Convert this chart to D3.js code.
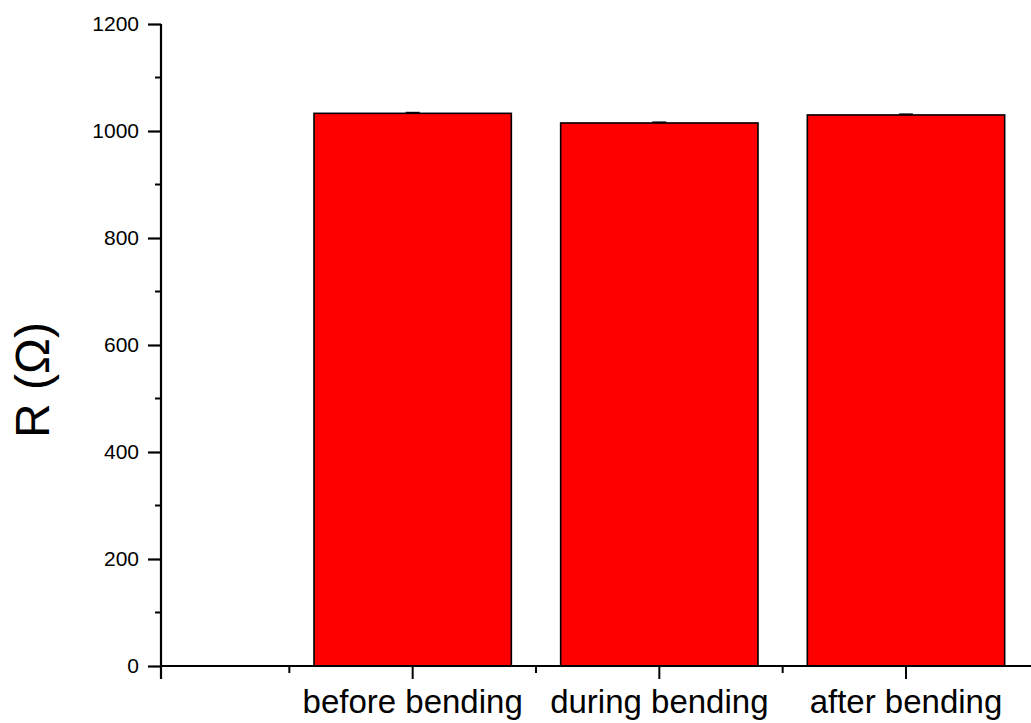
<!DOCTYPE html>
<html>
<head>
<meta charset="utf-8">
<script src="https://cdn.jsdelivr.net/npm/d3@7"></script>
<style>
  body { margin: 0; background: #fff; }
  svg { display: block; font-family: Arial, "Liberation Sans", sans-serif; }
</style>
</head>
<body>
<svg id="chart"></svg>
<script>
// Chart data
const categories = ['before bending', 'during bending', 'after bending'];
const resistance = [1033, 1015, 1030];
const errors = [1.5, 1.5, 1.5];
const yTicks = [0, 200, 400, 600, 800, 1000, 1200];

const width = 1031, height = 723;

const svg = d3.select('#chart')
    .attr('width', width)
    .attr('height', height);

// Scales: categories sit at positions 1, 2, 3 on a linear axis
const xScale = d3.scaleLinear()
    .domain([0, 3])
    .range([166, 906]);

const yScale = d3.scaleLinear()
    .domain([0, 1200])
    .range([666, 24]);

const barWidth = (xScale(1) - xScale(0)) * 0.8;

// Bars
svg.append('g')
  .selectAll('rect')
  .data(resistance)
  .join('rect')
    .attr('x', (d, i) => xScale(i + 1) - barWidth / 2)
    .attr('y', d => yScale(d))
    .attr('width', barWidth)
    .attr('height', d => yScale(0) - yScale(d))
    .attr('fill', '#ff0000')
    .attr('stroke', '#000')
    .attr('stroke-width', 1.6);

// Tiny error bars
const err = svg.append('g')
    .attr('stroke', '#000')
    .attr('stroke-width', 1.5);
resistance.forEach((d, i) => {
  const cx = xScale(i + 1);
  err.append('line')
      .attr('x1', cx).attr('x2', cx)
      .attr('y1', yScale(d + errors[i])).attr('y2', yScale(d - errors[i]));
  err.append('line')
      .attr('x1', cx - 7).attr('x2', cx + 7)
      .attr('y1', yScale(d + errors[i])).attr('y2', yScale(d + errors[i]));
});

// Y axis (left, major + minor ticks)
const yAxis = d3.axisLeft(yScale)
    .tickValues(yTicks)
    .tickFormat(d3.format('d'))
    .tickSize(13)
    .tickPadding(9)
    .tickSizeOuter(0);

const yAxisG = svg.append('g')
    .attr('transform', `translate(${xScale.range()[0] - 5},0)`)
    .call(yAxis)
    .attr('font-size', 21)
    .attr('font-family', 'Arial, "Liberation Sans", sans-serif');

const yMinor = d3.range(100, 1200, 200);
yAxisG.selectAll('.minor')
  .data(yMinor)
  .join('line')
    .attr('class', 'minor')
    .attr('x1', 0).attr('x2', -6)
    .attr('y1', d => yScale(d)).attr('y2', d => yScale(d))
    .attr('stroke', '#000')
    .attr('stroke-width', 2);

yAxisG.select('.domain').remove();
yAxisG.append('line')
    .attr('x1', 0).attr('x2', 0)
    .attr('y1', yScale(1200)).attr('y2', yScale(0) + 13)
    .attr('stroke', '#000')
    .attr('stroke-width', 2.2);
yAxisG.selectAll('.tick line').attr('stroke-width', 2.2);
yAxisG.selectAll('.tick text').attr('fill', '#000');

// X axis (bottom)
const x0 = xScale.range()[0] - 5;
const xAxisG = svg.append('g')
    .attr('transform', `translate(0,${yScale(0)})`);

xAxisG.append('line')
    .attr('x1', x0).attr('x2', width)
    .attr('y1', 0).attr('y2', 0)
    .attr('stroke', '#000')
    .attr('stroke-width', 2.2);

xAxisG.selectAll('.major')
  .data(categories)
  .join('line')
    .attr('class', 'major')
    .attr('x1', (d, i) => xScale(i + 1)).attr('x2', (d, i) => xScale(i + 1))
    .attr('y1', 0).attr('y2', 13)
    .attr('stroke', '#000')
    .attr('stroke-width', 2);

xAxisG.selectAll('.minor')
  .data([0.5, 1.5, 2.5])
  .join('line')
    .attr('class', 'minor')
    .attr('x1', d => xScale(d)).attr('x2', d => xScale(d))
    .attr('y1', 0).attr('y2', 7)
    .attr('stroke', '#000')
    .attr('stroke-width', 2);

xAxisG.selectAll('.label')
  .data(categories)
  .join('text')
    .attr('class', 'label')
    .attr('x', (d, i) => xScale(i + 1))
    .attr('y', 47)
    .attr('text-anchor', 'middle')
    .attr('font-size', 33)
    .attr('fill', '#000')
    .text(d => d);

// Y axis title
svg.append('text')
    .attr('transform', `translate(49,${(yScale(0) + yScale(1200)) / 2 + 35}) rotate(-90)`)
    .attr('text-anchor', 'middle')
    .attr('font-size', 48)
    .attr('fill', '#000')
    .text('R (\u03A9)');
</script>
</body>
</html>
